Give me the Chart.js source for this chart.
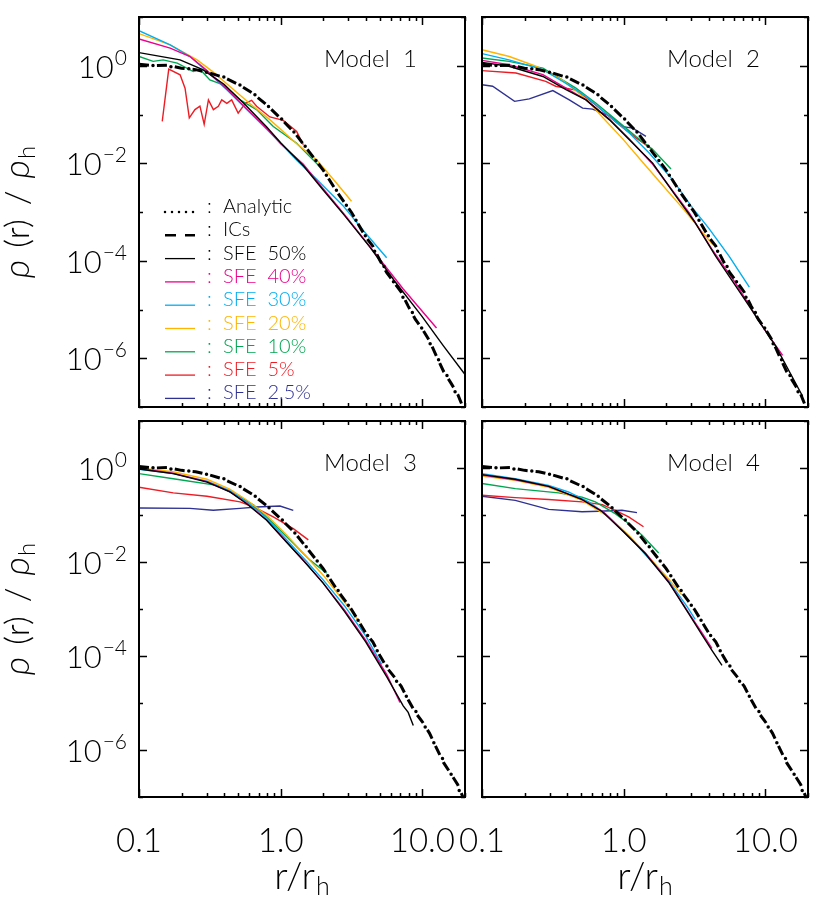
<!DOCTYPE html>
<html>
<head>
<meta charset="utf-8">
<script src="https://cdn.jsdelivr.net/npm/chart.js@4.4.0/dist/chart.umd.min.js"></script>
<style>
  html, body { margin: 0; padding: 0; background: #fff; }
  #wrap { position: relative; width: 817px; height: 907px; }
  #wrap canvas { position: absolute; left: 0; top: 0; }
</style>
</head>
<body>
<div id="wrap">
  <canvas id="c1" width="817" height="907"></canvas>
  <canvas id="c2" width="817" height="907"></canvas>
  <canvas id="c3" width="817" height="907"></canvas>
  <canvas id="c4" width="817" height="907"></canvas>
</div>
<script>
// values as [log10(r/rh), log10(rho/rho_h)]
var analytic = [[-1,0.02],[-0.85,0],[-0.7,-0.04],[-0.55,-0.11],[-0.4,-0.23],[-0.3,-0.37],[-0.2,-0.55],[-0.1,-0.8],[0,-1.07],[0.1,-1.38],[0.2,-1.75],[0.3,-2.15],[0.4,-2.58],[0.5,-3.02],[0.6,-3.5],[0.7,-3.98],[0.8,-4.45],[0.9,-4.92],[1,-5.4],[1.1,-5.95],[1.2,-6.5],[1.3,-7.1]];
var ics = [[-1,0.03],[-0.9,0],[-0.8,0.01],[-0.7,-0.05],[-0.6,-0.08],[-0.5,-0.15],[-0.4,-0.24],[-0.3,-0.38],[-0.2,-0.56],[-0.1,-0.8],[0,-1.08],[0.1,-1.38],[0.2,-1.76],[0.3,-2.14],[0.4,-2.6],[0.5,-3.01],[0.6,-3.51],[0.65,-3.7],[0.7,-3.99],[0.75,-4.25],[0.8,-4.44],[0.85,-4.64],[0.9,-4.93],[0.95,-5.2],[1,-5.4],[1.05,-5.64],[1.1,-5.96],[1.15,-6.27],[1.2,-6.5],[1.25,-6.74],[1.3,-7.1]];

// Model 1
var m1_sfe50 = [[-1,0.27],[-0.71,0.12],[-0.55,-0.08],[-0.4,-0.38],[-0.25,-0.8],[-0.1,-1.25],[0,-1.58],[0.16,-2.05],[0.3,-2.55],[0.45,-3.07],[0.63,-3.72],[0.8,-4.4],[1,-5.15],[1.15,-5.75],[1.3,-6.33]];
var m1_sfe40 = [[-1,0.55],[-0.78,0.36],[-0.64,0.19],[-0.52,-0.1],[-0.38,-0.48],[-0.24,-0.88],[-0.1,-1.28],[0,-1.6],[0.16,-2.02],[0.3,-2.52],[0.45,-3.05],[0.654,-3.8],[0.865,-4.58],[1.1,-5.38]];
var m1_sfe30 = [[-1,0.72],[-0.78,0.43],[-0.64,0.19],[-0.52,-0.12],[-0.38,-0.49],[-0.24,-0.9],[-0.12,-1.24],[0,-1.59],[0.11,-1.93],[0.254,-2.33],[0.44,-2.87],[0.583,-3.38],[0.748,-3.94]];
var m1_sfe20 = [[-1,0.66],[-0.78,0.43],[-0.59,0.12],[-0.48,-0.12],[-0.36,-0.42],[-0.22,-0.77],[-0.075,-1.11],[0.11,-1.59],[0.254,-1.93],[0.395,-2.41],[0.5,-2.78]];
var m1_sfe10 = [[-1,0.19],[-0.9,0.09],[-0.83,0.12],[-0.73,0.055],[-0.617,-0.12],[-0.57,-0.07],[-0.5,-0.29],[-0.405,-0.39],[-0.287,-0.7],[-0.17,-0.9],[-0.052,-1.245],[0.113,-1.59],[0.277,-2.07]];
var m1_sfe5 = [[-0.836,-1.14],[-0.79,-0.07],[-0.71,-0.185],[-0.675,-0.46],[-0.645,-1.07],[-0.605,-0.9],[-0.57,-0.83],[-0.54,-1.2],[-0.51,-0.7],[-0.475,-0.9],[-0.44,-0.83],[-0.416,-0.7],[-0.38,-0.77],[-0.346,-0.7],[-0.3,-0.97],[-0.25,-0.77],[-0.205,-0.71],[-0.17,-0.83],[-0.076,-1.05],[0.018,-1.12],[0.113,-1.35],[0.16,-1.62]];

// Model 2
var m2_sfe50 = [[-1,0.07],[-0.81,-0.01],[-0.57,-0.22],[-0.407,-0.49],[-0.266,-0.7],[-0.1,-1.11],[0.04,-1.52],[0.205,-2],[0.37,-2.68],[0.5,-3.2],[0.65,-3.91],[0.84,-4.73],[1.075,-5.76],[1.263,-6.78]];
var m2_sfe40 = [[-1,0.11],[-0.81,0.02],[-0.57,-0.18],[-0.407,-0.46],[-0.266,-0.7],[-0.1,-1.1],[0.04,-1.5],[0.205,-2.02],[0.463,-3.02],[0.62,-3.75],[0.79,-4.46],[0.98,-5.35],[1.122,-5.94]];
var m2_sfe30 = [[-1,0.25],[-0.81,0.12],[-0.57,-0.08],[-0.407,-0.36],[-0.266,-0.63],[-0.1,-1.04],[0.04,-1.38],[0.18,-1.79],[0.346,-2.34],[0.487,-2.92],[0.6,-3.33],[0.745,-3.91],[0.887,-4.54]];
var m2_sfe20 = [[-1,0.33],[-0.807,0.19],[-0.62,-0.01],[-0.43,-0.3],[-0.266,-0.68],[-0.148,-1.06],[-0.007,-1.5],[0.134,-1.98],[0.275,-2.45],[0.416,-2.92],[0.628,-3.67]];
var m2_sfe10 = [[-1,0.16],[-0.81,0.09],[-0.57,-0.05],[-0.337,-0.46],[-0.195,-0.77],[-0.054,-1.11],[0.087,-1.45],[0.205,-1.72],[0.334,-2.12]];
var m2_sfe5 = [[-1,-0.1],[-0.76,-0.15],[-0.55,-0.32],[-0.48,-0.42],[-0.337,-0.5],[-0.2,-0.8],[-0.054,-1.16],[0.087,-1.48],[0.205,-1.72]];
var m2_sfe2p5 = [[-1,-0.39],[-0.925,-0.42],[-0.77,-0.73],[-0.666,-0.68],[-0.5,-0.51],[-0.384,-0.7],[-0.29,-0.87],[-0.22,-0.89],[-0.1,-1.03],[-0.007,-1.25],[0.064,-1.28],[0.157,-1.45]];

// Model 3
var m3_sfe50 = [[-1,-0.02],[-0.758,-0.12],[-0.52,-0.3],[-0.358,-0.51],[-0.24,-0.76],[-0.099,-1.11],[0.042,-1.58],[0.16,-1.97],[0.3,-2.45],[0.45,-3.05],[0.6,-3.7],[0.75,-4.45],[0.865,-5.06],[0.9,-5.2],[0.936,-5.48]];
var m3_sfe40 = [[-1,-0.01],[-0.76,-0.11],[-0.52,-0.29],[-0.36,-0.5],[-0.24,-0.75],[-0.1,-1.1],[0.04,-1.57],[0.18,-2.03],[0.3,-2.45],[0.45,-3.02],[0.6,-3.66],[0.75,-4.4],[0.842,-4.99]];
var m3_sfe30 = [[-1,-0.03],[-0.76,-0.12],[-0.52,-0.28],[-0.36,-0.48],[-0.24,-0.72],[-0.1,-1.06],[0.04,-1.52],[0.18,-1.98],[0.3,-2.38],[0.45,-2.93],[0.6,-3.57],[0.713,-4.18]];
var m3_sfe20 = [[-1,0],[-0.76,-0.08],[-0.52,-0.24],[-0.36,-0.45],[-0.24,-0.68],[-0.1,-1],[0.04,-1.42],[0.18,-1.88],[0.3,-2.28],[0.45,-2.85],[0.56,-3.29]];
var m3_sfe10 = [[-1,-0.12],[-0.758,-0.23],[-0.45,-0.37],[-0.287,-0.62],[-0.19,-0.79],[-0.052,-1.18],[0.089,-1.6],[0.207,-1.96],[0.325,-2.24]];
var m3_sfe5 = [[-1,-0.41],[-0.758,-0.53],[-0.52,-0.6],[-0.287,-0.72],[-0.19,-0.83],[-0.052,-1.04],[0.089,-1.29],[0.195,-1.53]];
var m3_sfe2p5 = [[-1,-0.85],[-0.64,-0.86],[-0.476,-0.9],[-0.287,-0.86],[-0.17,-0.83],[-0.005,-0.81],[0.089,-0.9]];

// Model 4
var m4_sfe50 = [[-1,-0.14],[-0.765,-0.24],[-0.53,-0.39],[-0.3,-0.66],[-0.15,-0.93],[0,-1.36],[0.152,-1.82],[0.317,-2.43],[0.459,-3.1],[0.553,-3.55],[0.623,-3.88],[0.694,-4.2]];
var m4_sfe40 = [[-1,-0.15],[-0.765,-0.25],[-0.53,-0.39],[-0.3,-0.66],[-0.15,-0.92],[0,-1.35],[0.152,-1.8],[0.317,-2.42],[0.459,-3.08],[0.553,-3.51],[0.623,-3.84]];
var m4_sfe30 = [[-1,-0.12],[-0.765,-0.23],[-0.53,-0.37],[-0.39,-0.51],[-0.247,-0.72],[-0.13,-0.97],[-0.012,-1.32],[0.082,-1.6],[0.176,-1.92],[0.317,-2.4],[0.45,-2.96],[0.505,-3.22]];
var m4_sfe20 = [[-1,-0.17],[-0.765,-0.26],[-0.53,-0.41],[-0.294,-0.69],[-0.106,-1.04],[0.035,-1.43],[0.176,-1.89],[0.317,-2.36],[0.41,-2.7]];
var m4_sfe10 = [[-1,-0.33],[-0.765,-0.44],[-0.46,-0.53],[-0.294,-0.62],[-0.2,-0.72],[-0.06,-0.97],[0.035,-1.18],[0.13,-1.43],[0.247,-1.81]];
var m4_sfe5 = [[-1,-0.58],[-0.765,-0.63],[-0.53,-0.67],[-0.294,-0.72],[-0.15,-0.78],[-0.06,-0.9],[0.035,-1.04],[0.14,-1.25]];
var m4_sfe2p5 = [[-1,-0.6],[-0.765,-0.69],[-0.53,-0.88],[-0.294,-0.93],[-0.176,-0.92],[-0.012,-0.9],[0.094,-0.95]];

var sfeLabels = ["SFE  50%", "SFE  40%", "SFE  30%", "SFE  20%", "SFE  10%", "SFE  5%", "SFE  2.5%"];
var sfeColors = ["#000000", "#ec008c", "#00aeef", "#ffb400", "#00a651", "#ed1c24", "#2e3192"];
var xTickValues = [0.1, 1, 10];
var xTickLabels = ["0.1", "1.0", "10.0"];
var yTickExps = [0, -2, -4, -6];
var yTickLabels = ["0", "\u22122", "\u22124", "\u22126"];

var FONT = "Lato, 'Open Sans', sans-serif";
var W = "300 "; // light weight

var panels = [
    { id: "c1", name: "Model  1", box: [139, 17, 465, 407], series: [m1_sfe50, m1_sfe40, m1_sfe30, m1_sfe20, m1_sfe10, m1_sfe5, null], legend: true, left: true, bottom: false },
    { id: "c2", name: "Model  2", box: [482, 17, 808, 407], series: [m2_sfe50, m2_sfe40, m2_sfe30, m2_sfe20, m2_sfe10, m2_sfe5, m2_sfe2p5], legend: false, left: false, bottom: false },
    { id: "c3", name: "Model  3", box: [139, 421, 465, 797], series: [m3_sfe50, m3_sfe40, m3_sfe30, m3_sfe20, m3_sfe10, m3_sfe5, m3_sfe2p5], legend: false, left: true, bottom: true },
    { id: "c4", name: "Model  4", box: [482, 421, 808, 797], series: [m4_sfe50, m4_sfe40, m4_sfe30, m4_sfe20, m4_sfe10, m4_sfe5, m4_sfe2p5], legend: false, left: false, bottom: true }
];

function toPoints(pairs) {
    return pairs.map(function (p) {
        return { x: Math.pow(10, p[0]), y: Math.pow(10, p[1]) };
    });
}

// text with a subscript/superscript part
function textWidth(ctx, parts) {
    var w = 0;
    parts.forEach(function (p) {
        ctx.font = p.font;
        w += ctx.measureText(p.text).width + (p.gap || 0);
    });
    return w;
}
function drawParts(ctx, parts, x, y) {
    parts.forEach(function (p) {
        ctx.font = p.font;
        ctx.fillText(p.text, x, y + (p.dy || 0));
        x += ctx.measureText(p.text).width + (p.gap || 0);
    });
}

var decor = {
    id: "decor",
    afterDraw: function (chart, args, o) {
        var ctx = chart.ctx, a = chart.chartArea, xs = chart.scales.x, ys = chart.scales.y;
        ctx.save();
        ctx.strokeStyle = "#000";
        ctx.fillStyle = "#000";

        // tick marks, inside, on all four sides
        ctx.lineWidth = 1.5;
        ctx.beginPath();
        [0.1, 1, 10].forEach(function (d) {
            for (var k = 1; k <= 9; k++) {
                var v = k * d;
                if (v > 20.001) break;
                var px = Math.round(xs.getPixelForValue(v)) + 0.5;
                var len = k === 1 ? 8 : 4;
                ctx.moveTo(px, a.bottom); ctx.lineTo(px, a.bottom - len);
                ctx.moveTo(px, a.top); ctx.lineTo(px, a.top + len);
            }
        });
        for (var e = -7; e <= 1; e++) {
            var py = Math.round(ys.getPixelForValue(Math.pow(10, e))) + 0.5;
            var l = e % 2 === 0 ? 8 : 4;
            ctx.moveTo(a.left, py); ctx.lineTo(a.left + l, py);
            ctx.moveTo(a.right, py); ctx.lineTo(a.right - l, py);
        }
        ctx.stroke();

        // frame
        ctx.lineWidth = 2;
        ctx.strokeRect(a.left, a.top, a.right - a.left, a.bottom - a.top);

        // model name
        ctx.textAlign = "left";
        ctx.textBaseline = "alphabetic";
        ctx.font = W + "24px " + FONT;
        ctx.fillText(o.name, a.left + 185, a.top + 50);

        // y tick labels
        if (o.left) {
            yTickExps.forEach(function (ex, i) {
                var py = ys.getPixelForValue(Math.pow(10, ex));
                var parts = [
                    { text: "10", font: W + "31px " + FONT, gap: 1 },
                    { text: yTickLabels[i], font: W + "21px " + FONT, dy: -13 }
                ];
                var w = textWidth(ctx, parts);
                drawParts(ctx, parts, a.left - 12 - w, py + 12);
            });
            // y axis title
            ctx.save();
            ctx.translate(29, (a.top + a.bottom) / 2);
            ctx.rotate(-Math.PI / 2);
            var tparts = [
                { text: "\u03c1", font: "italic " + W + "36px " + FONT, gap: 12 },
                { text: "(r)", font: W + "34px " + FONT, gap: 14 },
                { text: "/", font: W + "34px " + FONT, gap: 12 },
                { text: "\u03c1", font: "italic " + W + "36px " + FONT, gap: 1 },
                { text: "h", font: W + "24px " + FONT, dy: 6 }
            ];
            var tw = textWidth(ctx, tparts);
            drawParts(ctx, tparts, -tw / 2, 0);
            ctx.restore();
        }

        // x tick labels and title
        if (o.bottom) {
            ctx.textAlign = "center";
            ctx.font = W + "33px " + FONT;
            xTickValues.forEach(function (v, i) {
                ctx.fillText(xTickLabels[i], xs.getPixelForValue(v), a.bottom + 55);
            });
            ctx.textAlign = "left";
            var xparts = [
                { text: "r/r", font: W + "38px " + FONT, gap: 1 },
                { text: "h", font: W + "25px " + FONT, dy: 6 }
            ];
            var xw = textWidth(ctx, xparts);
            drawParts(ctx, xparts, (a.left + a.right) / 2 - xw / 2, a.bottom + 92);
        }

        // legend
        if (o.legend) {
            var names = ["Analytic", "ICs"].concat(sfeLabels);
            var cols = ["#000", "#000"].concat(sfeColors);
            ctx.font = W + "20px " + FONT;
            ctx.textAlign = "left";
            names.forEach(function (nm, i) {
                var cy = a.top + 189 + i * 23.3;
                ctx.strokeStyle = cols[i];
                ctx.fillStyle = cols[i];
                ctx.beginPath();
                ctx.lineCap = "butt";
                if (i === 0) {
                    ctx.lineWidth = 2.5;
                    ctx.lineCap = "round";
                    ctx.setLineDash([0, 7]);
                } else if (i === 1) {
                    ctx.lineWidth = 2.5;
                    ctx.setLineDash([11, 9]);
                } else {
                    ctx.lineWidth = 1.3;
                    ctx.setLineDash([]);
                }
                ctx.moveTo(a.left + 26, cy + 6);
                ctx.lineTo(a.left + 56, cy + 6);
                ctx.stroke();
                ctx.setLineDash([]);
                ctx.fillText(":", a.left + 68, cy + 7);
                ctx.fillText(nm, a.left + 84, cy + 7);
            });
        }
        ctx.restore();
    }
};

panels.forEach(function (p) {
    var datasets = [
        { label: "Analytic", data: toPoints(analytic), borderColor: "#000", borderWidth: 3.5, borderDash: [0, 18], borderDashOffset: 4, borderCapStyle: "round" },
        { label: "ICs", data: toPoints(ics), borderColor: "#000", borderWidth: 3, borderDash: [10, 8] }
    ];
    p.series.forEach(function (s, i) {
        if (!s) return;
        datasets.push({ label: sfeLabels[i], data: toPoints(s), borderColor: sfeColors[i], borderWidth: 1.4 });
    });

    new Chart(document.getElementById(p.id), {
        type: "line",
        data: { datasets: datasets },
        options: {
            responsive: false,
            animation: false,
            devicePixelRatio: 1,
            layout: { padding: { left: p.box[0], top: p.box[1], right: 817 - p.box[2], bottom: 907 - p.box[3] } },
            elements: { point: { radius: 0 }, line: { tension: 0 } },
            scales: {
                x: { type: "logarithmic", min: 0.1, max: 20, display: false },
                y: { type: "logarithmic", min: 1e-7, max: 10, display: false }
            },
            plugins: {
                legend: { display: false },
                tooltip: { enabled: false },
                decor: { name: p.name, legend: p.legend, left: p.left, bottom: p.bottom }
            }
        },
        plugins: [decor]
    });
});
</script>
</body>
</html>
